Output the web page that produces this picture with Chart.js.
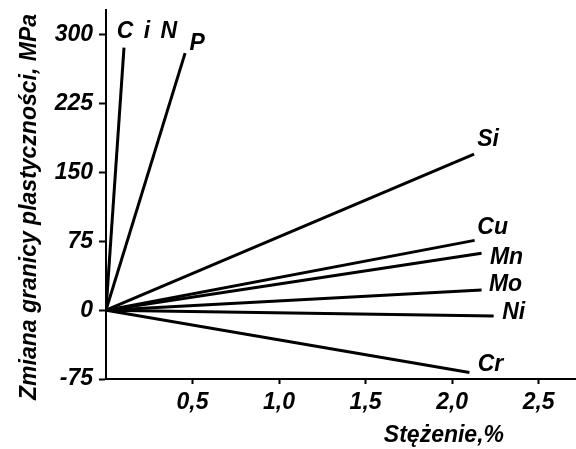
<!DOCTYPE html>
<html>
<head>
<meta charset="utf-8">
<script src="https://cdn.jsdelivr.net/npm/chart.js@4.4.0/dist/chart.umd.min.js"></script>
<style>
html,body{margin:0;padding:0;background:#fff;}
#wrap{width:576px;height:449px;position:relative;}
</style>
</head>
<body>
<div id="wrap"><canvas id="c" width="576" height="449"></canvas></div>
<script>
// ---- data ----
const categories = ['C i N', 'P', 'Si', 'Cu', 'Mn', 'Mo', 'Ni', 'Cr'];
const endConcentration = [0.104, 0.457, 2.127, 2.13, 2.17, 2.17, 2.24, 2.10];
const endChange = [286, 280, 170, 76, 62, 22, -6.5, -68];
const yTickValues = [-75, 0, 75, 150, 225, 300];
const xTickValues = [0.5, 1.0, 1.5, 2.0, 2.5];
const xTickLabels = ['0,5', '1,0', '1,5', '2,0', '2,5'];
const yTitle = 'Zmiana granicy plastyczności, MPa';
const xTitle = 'Stężenie,%';

// label offsets (pixels) relative to line end
const labelOffsets = {
  'C i N': [24, -16], 'P': [12, -9], 'Si': [14, -14], 'Cu': [18, -13],
  'Mn': [25, 4], 'Mo': [24, -5], 'Ni': [20, -3], 'Cr': [21, -8]
};

const FONT = '"Liberation Sans", Arial, sans-serif';

const datasets = categories.map((name, i) => ({
  label: name,
  data: [{x: 0, y: 0}, {x: endConcentration[i], y: endChange[i]}],
  showLine: true,
  borderColor: '#000',
  borderWidth: 3,
  pointRadius: 0,
  fill: false
}));

const labelPlugin = {
  id: 'lineLabels',
  afterDatasetsDraw(chart) {
    const ctx = chart.ctx;
    const xs = chart.scales.x, ys = chart.scales.y;
    ctx.save();
    ctx.fillStyle = '#000';
    ctx.font = 'italic bold 23px ' + FONT;
    ctx.textAlign = 'center';
    ctx.textBaseline = 'middle';
    categories.forEach((name, i) => {
      const px = xs.getPixelForValue(endConcentration[i]);
      const py = ys.getPixelForValue(endChange[i]);
      const off = labelOffsets[name];
      if (name === 'C i N') ctx.letterSpacing = '2px'; else ctx.letterSpacing = '0px';
      ctx.fillText(name, px + off[0], py + off[1]);
    });
    ctx.letterSpacing = '0px';
    // axis titles
    ctx.font = 'italic bold 23px ' + FONT;
    ctx.textAlign = 'right';
    ctx.fillText(xTitle, 504, 436);
    ctx.save();
    ctx.translate(30, 207);
    ctx.rotate(-Math.PI / 2);
    ctx.textAlign = 'center';
    ctx.font = 'italic bold 23px ' + FONT;
    ctx.fillText(yTitle, 0, 0);
    ctx.restore();
    ctx.restore();
  }
};

new Chart(document.getElementById('c'), {
  type: 'scatter',
  data: { datasets },
  options: {
    responsive: false,
    animation: false,
    layout: { padding: { top: 10, right: 1, left: 0, bottom: 0 } },
    plugins: { legend: { display: false }, tooltip: { enabled: false } },
    scales: {
      x: {
        type: 'linear',
        min: 0,
        max: 2.71,
        afterBuildTicks(scale) { scale.ticks = xTickValues.map(v => ({ value: v })); },
        afterFit(scale) { scale.height = 70; scale.paddingLeft = 0; scale.paddingRight = 0; },
        ticks: {
          color: '#000',
          padding: 5,
          font: { family: FONT, size: 23, style: 'italic', weight: 'bold' },
          callback(v) { const k = xTickValues.indexOf(v); return k >= 0 ? xTickLabels[k] : ''; }
        },
        grid: { drawOnChartArea: false, color: '#000', tickLength: 5, tickWidth: 2 },
        border: { display: true, color: '#000', width: 2 }
      },
      y: {
        type: 'linear',
        min: -75,
        max: 327,
        afterBuildTicks(scale) { scale.ticks = yTickValues.map(v => ({ value: v })); },
        afterFit(scale) { scale.width = 106; scale.paddingTop = 0; scale.paddingBottom = 0; },
        ticks: {
          color: '#000',
          padding: 6,
          font: { family: FONT, size: 23, style: 'italic', weight: 'bold' },
          callback(v) { return String(v); }
        },
        grid: { drawOnChartArea: false, color: '#000', tickLength: 7, tickWidth: 2 },
        border: { display: true, color: '#000', width: 2 }
      }
    }
  },
  plugins: [labelPlugin]
});
</script>
</body>
</html>
